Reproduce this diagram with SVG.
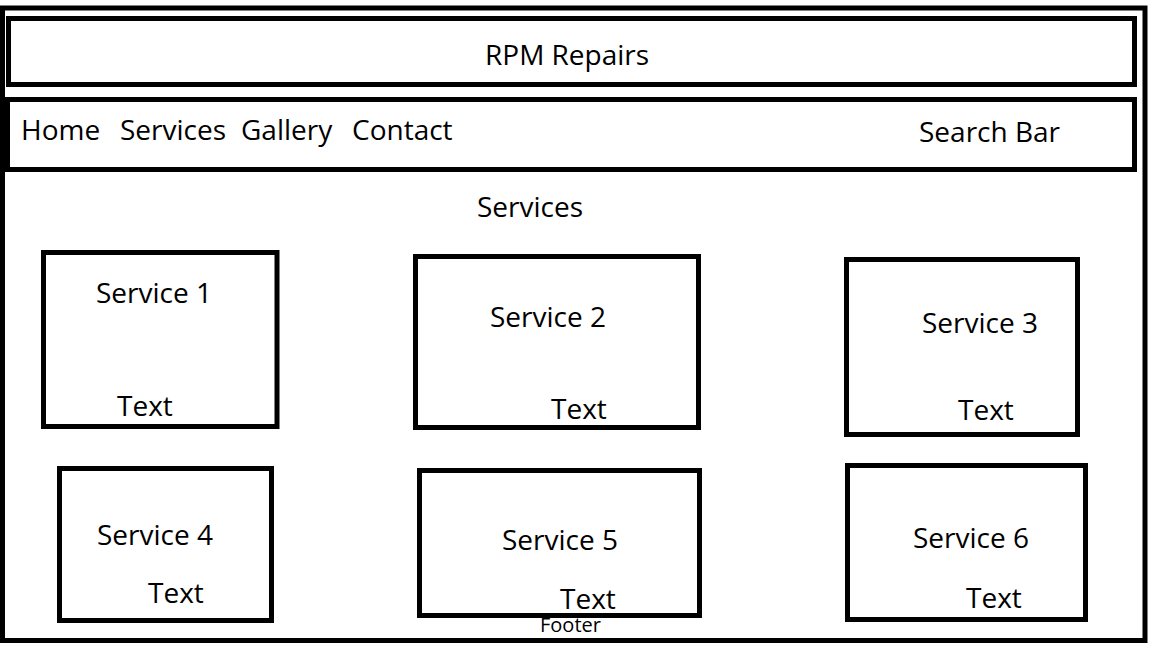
<svg xmlns="http://www.w3.org/2000/svg" width="1152" height="648" viewBox="0 0 1152 648">
<style>
.box{fill:none;stroke:#000;stroke-width:5}
.frame{fill:none;stroke:#000;stroke-width:5}
text{font-family:"Open Sans","Noto Sans","Liberation Sans",sans-serif;font-size:28px;fill:#000}
.small{font-size:20px}
</style>
<rect width="1152" height="648" fill="#fff"/>
<g id="page">
<rect class="frame" x="2.5" y="8" width="1142.5" height="632.5"/>
</g>
<g id="header">
<rect class="box" x="8.5" y="18.5" width="1126" height="66"/>
<text x="485" y="65">RPM Repairs</text>
</g>
<g id="nav">
<rect class="box" x="7.5" y="99.5" width="1127" height="70"/>
<text x="21" y="140">Home</text>
<text x="120" y="140">Services</text>
<text x="241" y="140">Gallery</text>
<text x="352" y="140">Contact</text>
<text x="919" y="142">Search Bar</text>
</g>
<g id="services-heading">
<text x="477" y="217">Services</text>
</g>
<g id="service1">
<rect class="box" x="43.5" y="252.5" width="233.5" height="174"/>
<text x="96" y="303">Service 1</text>
<text x="117" y="416">Text</text>
</g>
<g id="service2">
<rect class="box" x="415.5" y="256.5" width="283" height="171"/>
<text x="490" y="327">Service 2</text>
<text x="551" y="419">Text</text>
</g>
<g id="service3">
<rect class="box" x="846.5" y="259.5" width="231" height="175"/>
<text x="922" y="333">Service 3</text>
<text x="958" y="420">Text</text>
</g>
<g id="service4">
<rect class="box" x="59.5" y="468.5" width="212" height="152"/>
<text x="97" y="545">Service 4</text>
<text x="148" y="603">Text</text>
</g>
<g id="service5">
<rect class="box" x="419.5" y="470.5" width="280" height="145"/>
<text x="502" y="550">Service 5</text>
<text x="560" y="609">Text</text>
</g>
<g id="service6">
<rect class="box" x="847.5" y="465.5" width="238" height="154"/>
<text x="913" y="548">Service 6</text>
<text x="966" y="608">Text</text>
</g>
<g id="footer">
<text class="small" x="540" y="632">Footer</text>
</g>
<g id="connectors"></g>
</svg>
